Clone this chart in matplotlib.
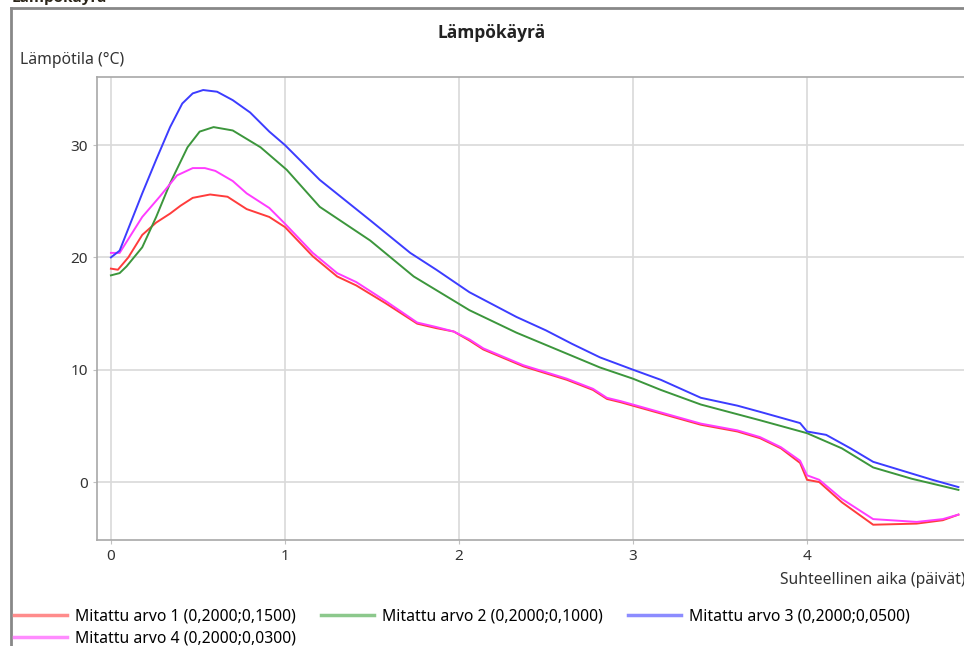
import matplotlib.pyplot as plt
from matplotlib.lines import Line2D

plt.rcParams['font.family'] = ['Noto Sans', 'DejaVu Sans']

# measured temperature curves, x = relative time in days
x1 = [0, 0.04, 0.1, 0.18, 0.26, 0.34, 0.4, 0.47, 0.57, 0.67, 0.78, 0.91, 1.0, 1.16, 1.3,
      1.41, 1.58, 1.76, 1.87, 1.97, 2.06, 2.14, 2.37, 2.62, 2.77, 2.85, 2.93, 3.16, 3.39,
      3.6, 3.73, 3.85, 3.96, 4.0, 4.07, 4.2, 4.38, 4.63, 4.78, 4.87]
y1 = [19.0, 18.9, 20.0, 22.0, 23.1, 23.9, 24.6, 25.3, 25.6, 25.4, 24.3, 23.6, 22.7, 20.1, 18.3,
      17.5, 15.9, 14.1, 13.7, 13.4, 12.6, 11.8, 10.3, 9.1, 8.2, 7.4, 7.1, 6.1, 5.1,
      4.5, 3.9, 3.0, 1.7, 0.2, 0.0, -1.8, -3.8, -3.7, -3.4, -2.9]

x2 = [0, 0.05, 0.09, 0.18, 0.26, 0.34, 0.44, 0.51, 0.59, 0.7, 0.86, 1.01, 1.2, 1.49, 1.74,
      2.06, 2.33, 2.81, 3.0, 3.16, 3.39, 3.73, 4.0, 4.2, 4.38, 4.6, 4.87]
y2 = [18.4, 18.6, 19.2, 20.9, 23.6, 26.6, 29.8, 31.2, 31.6, 31.3, 29.8, 27.8, 24.5, 21.5, 18.3,
      15.3, 13.3, 10.2, 9.2, 8.2, 6.9, 5.5, 4.35, 3.0, 1.3, 0.3, -0.7]

x3 = [0, 0.05, 0.18, 0.26, 0.34, 0.41, 0.47, 0.53, 0.61, 0.7, 0.8, 0.91, 1.0, 1.2, 1.49,
      1.72, 1.87, 2.06, 2.33, 2.5, 2.65, 2.81, 3.0, 3.16, 3.39, 3.6, 3.73, 3.96, 4.0,
      4.11, 4.25, 4.38, 4.55, 4.72, 4.87]
y3 = [20.0, 20.6, 25.7, 28.7, 31.6, 33.7, 34.6, 34.9, 34.75, 34.0, 32.9, 31.2, 30.0, 26.9, 23.3,
      20.4, 18.9, 16.9, 14.7, 13.5, 12.3, 11.1, 10.0, 9.1, 7.5, 6.8, 6.25, 5.25, 4.5,
      4.2, 3.0, 1.8, 1.0, 0.2, -0.45]

x4 = [0, 0.05, 0.18, 0.28, 0.38, 0.47, 0.54, 0.6, 0.7, 0.78, 0.91, 1.0, 1.16, 1.3, 1.41,
      1.58, 1.76, 1.87, 1.97, 2.06, 2.14, 2.37, 2.62, 2.77, 2.85, 2.93, 3.16, 3.39, 3.6,
      3.73, 3.85, 3.96, 4.0, 4.07, 4.2, 4.38, 4.63, 4.78, 4.87]
y4 = [20.4, 20.4, 23.6, 25.4, 27.3, 27.95, 27.95, 27.7, 26.8, 25.7, 24.4, 23.0, 20.4, 18.6, 17.8,
      16.1, 14.2, 13.8, 13.4, 12.7, 11.9, 10.4, 9.2, 8.3, 7.5, 7.2, 6.2, 5.2, 4.6,
      4.0, 3.1, 1.9, 0.6, 0.2, -1.5, -3.3, -3.55, -3.3, -2.9]

labels = ['Mitattu arvo 1 (0,2000;0,1500)', 'Mitattu arvo 2 (0,2000;0,1000)',
          'Mitattu arvo 3 (0,2000;0,0500)', 'Mitattu arvo 4 (0,2000;0,0300)']
line_colors = ['#ff3c3c', '#3c963c', '#3c3cff', '#ff3cff']
legend_colors = ['#ff8c8c', '#8cc88c', '#8c8cff', '#ff8cff']

fig = plt.figure(figsize=(9.64, 6.46), dpi=100)
ax = fig.add_axes([97 / 964, 1 - 540 / 646, 1 - 97 / 964, (540 - 77) / 646])

ax.plot(x1, y1, color=line_colors[0], lw=1.4)
ax.plot(x2, y2, color=line_colors[1], lw=1.4)
ax.plot(x4, y4, color=line_colors[3], lw=1.4)
ax.plot(x3, y3, color=line_colors[2], lw=1.4)

ax.set_xlim(-0.08, 4.902)
ax.set_ylim(-5.16, 36.06)
ax.set_xticks([0, 1, 2, 3, 4])
ax.set_yticks([0, 10, 20, 30])
ax.grid(True, color='#d9d9d9', lw=1.2)
ax.set_axisbelow(True)
ax.tick_params(labelsize=11, colors='#c0c0c0', labelcolor='#333333', length=3)
ax.spines['right'].set_visible(False)
for s in ['left', 'bottom', 'top']:
    ax.spines[s].set_color('#a8a8a8')
    ax.spines[s].set_linewidth(1.2)

# outer panel frame
fig.add_artist(Line2D([11 / 964, 11 / 964], [0, 1 - 8 / 646], color='#888888', lw=2))
fig.add_artist(Line2D([11 / 964, 1], [1 - 8 / 646, 1 - 8 / 646], color='#888888', lw=2))

bold = ['Open Sans', 'DejaVu Sans']
fig.text(12 / 964, 1 - 2 / 646, 'Lämpökäyrä', fontsize=11, fontweight='bold', family=bold,
         color='#2a2418', ha='left', va='baseline')
fig.text(492 / 964, 1 - 33 / 646, 'Lämpökäyrä', fontsize=12.5, fontweight='bold', family=bold,
         color='#222222', ha='center', va='center')
fig.text(20 / 964, 1 - 60 / 646, 'Lämpötila (°C)', fontsize=11.3, color='#333333',
         ha='left', va='center')
fig.text(780 / 964, 1 - 580 / 646, 'Suhteellinen aika (päivät)', fontsize=11.3,
         color='#333333', ha='left', va='center')

# legend filled column-wise: 1,4 | 2 | 3 gives rows 1 2 3 / 4
order = [0, 3, 1, 2]
handles = [Line2D([], [], color=legend_colors[i], lw=2.5) for i in order]
fig.legend(handles, [labels[i] for i in order], loc='upper left',
           bbox_to_anchor=(6 / 964, 1 - 601 / 646), ncol=3, frameon=False, fontsize=11.3,
           handlelength=3.4, handletextpad=0.5, columnspacing=1.6, labelspacing=0.35,
           borderpad=0)

fig.savefig('out.png', dpi=100)
